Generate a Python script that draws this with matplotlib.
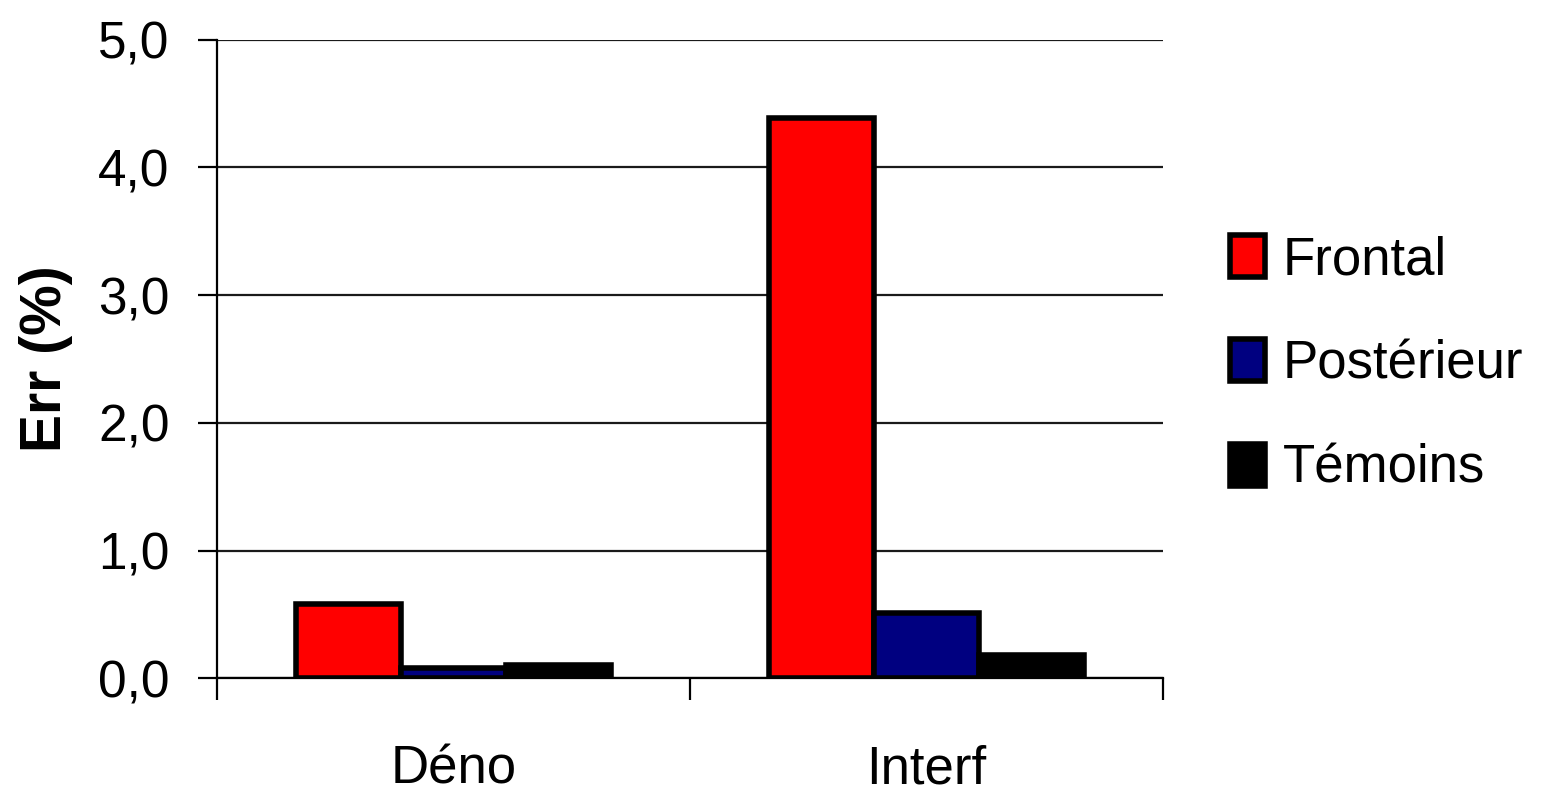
import matplotlib
matplotlib.use("Agg")
import matplotlib.pyplot as plt
import numpy as np
from matplotlib.ticker import FixedLocator, FuncFormatter

categories = ["Déno", "Interf"]
series_names = ["Frontal", "Postérieur", "Témoins"]
frontal = [0.58, 4.39]
posterieur = [0.08, 0.51]
temoins = [0.10, 0.18]
colors = ["#ff0000", "#000080", "#000000"]
y_ticks = [0, 1, 2, 3, 4, 5]

regular = ["Liberation Sans", "DejaVu Sans"]

fig = plt.figure(figsize=(15.49, 7.96), dpi=100)
ax = fig.add_axes([0.140, 0.148, 0.611, 0.802])

x = np.arange(len(categories))
width = 1 / 4.5
values = [frontal, posterieur, temoins]
for i, (name, vals, col) in enumerate(zip(series_names, values, colors)):
    ax.bar(x + (i - 1) * width, vals, width, color=col, edgecolor="black",
           linewidth=4, label=name, zorder=3)

ax.set_xlim(-0.5, 1.5)
ax.set_ylim(0, 5)

ax.yaxis.set_major_locator(FixedLocator(y_ticks))
ax.yaxis.set_major_formatter(FuncFormatter(lambda v, p: f"{v:.1f}".replace(".", ",")))
ax.yaxis.grid(True, color="#1a1a1a", linewidth=1.6, zorder=0)
ax.tick_params(axis="y", length=14, width=1.6, pad=20, labelsize=37, direction="out")
for lbl in ax.get_yticklabels():
    lbl.set_family(regular)

ax.set_xticks([-0.5, 0.5, 1.5])
ax.set_xticklabels([])
ax.set_xticks(x, minor=True)
ax.set_xticklabels(categories, minor=True, fontsize=38, family=regular)
ax.tick_params(axis="x", which="major", length=16, width=1.6, direction="out")
ax.tick_params(axis="x", which="minor", length=0, pad=48)

for side in ["top", "right"]:
    ax.spines[side].set_visible(False)
ax.spines["left"].set_linewidth(1.6)
ax.spines["bottom"].set_linewidth(1.6)
ax.spines["bottom"].set_zorder(4)

ax.set_ylabel("Err (%)", fontsize=41, fontweight="bold", family=regular, labelpad=18)

fig.legend(loc="center left", bbox_to_anchor=(0.794, 0.542), frameon=False,
           borderpad=0, borderaxespad=0, handlelength=0.66, handleheight=0.85,
           handletextpad=0.34, labelspacing=1.02,
           prop={"family": regular, "size": 38})

fig.savefig("out.png", dpi=100, facecolor="white")
